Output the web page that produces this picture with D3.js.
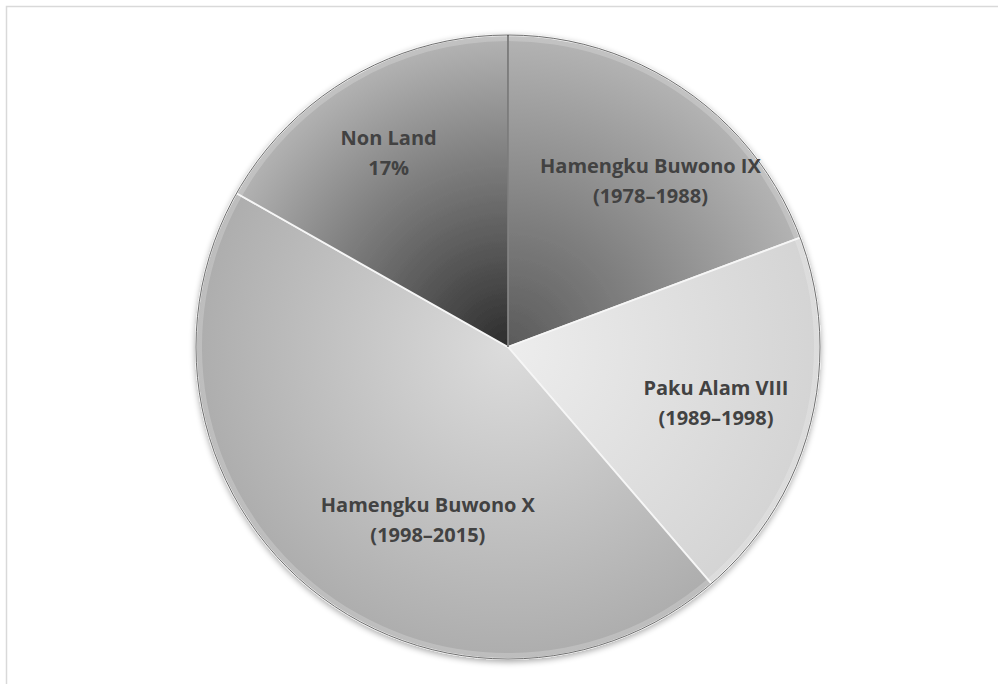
<!DOCTYPE html>
<html>
<head>
<meta charset="utf-8">
<script src="https://cdn.jsdelivr.net/npm/d3@7"></script>
<style>
  html, body { margin: 0; padding: 0; background: #fff; }
  svg { display: block; }
  .slice-label { font-family: "Open Sans", Lato, sans-serif; font-weight: bold; font-size: 20px; fill: #424242; }
</style>
</head>
<body>
<svg id="chart"></svg>
<script>
// slice data, clockwise from 12 o'clock
const names = ['Hamengku Buwono IX', 'Paku Alam VIII', 'Hamengku Buwono X', 'Non Land'];
const subLines = ['(1978\u20131988)', '(1989\u20131998)', '(1998\u20132015)', '17%'];
const shares = [19.3, 19.4, 44.5, 16.8];
// inner/outer gradient shades per slice
const innerShade = ['#5a5a5a', '#ededed', '#dcdcdc', '#2c2c2c'];
const outerShade = ['#b4b4b4', '#d4d4d4', '#adadad', '#b4b4b4'];
// label centres (fraction of radius, angle in degrees from north)
const labelPos = [[0.70, 40.7], [0.69, 105], [0.61, 204.9], [0.73, 328.4]];

const width = 998, height = 684;
const cx = 508, cy = 347, radius = 312;

const svg = d3.select('#chart').attr('width', width).attr('height', height);

svg.append('rect')
    .attr('x', 6.5).attr('y', 6.5)
    .attr('width', 1000).attr('height', 700)
    .attr('fill', 'none')
    .attr('stroke', '#d9d9d9')
    .attr('stroke-width', 1.5);

const defs = svg.append('defs');

const shadow = defs.append('filter').attr('id', 'shadow')
    .attr('x', '-10%').attr('y', '-10%').attr('width', '120%').attr('height', '120%');
shadow.append('feGaussianBlur').attr('in', 'SourceAlpha').attr('stdDeviation', 3);
shadow.append('feOffset').attr('dx', 0).attr('dy', 2).attr('result', 'blur');
shadow.append('feComponentTransfer').append('feFuncA').attr('type', 'linear').attr('slope', 0.35);
const merge = shadow.append('feMerge');
merge.append('feMergeNode');
merge.append('feMergeNode').attr('in', 'SourceGraphic');

names.forEach((n, i) => {
    const g = defs.append('radialGradient')
        .attr('id', 'grad' + i)
        .attr('gradientUnits', 'userSpaceOnUse')
        .attr('cx', 0).attr('cy', 0).attr('r', radius);
    g.append('stop').attr('offset', '0%').attr('stop-color', innerShade[i]);
    g.append('stop').attr('offset', '100%').attr('stop-color', outerShade[i]);
});

const pie = d3.pie().sort(null).value(d => d);
const arcs = pie(shares);
const arc = d3.arc().innerRadius(0).outerRadius(radius);
const rimArc = d3.arc().innerRadius(radius - 6).outerRadius(radius);

const g = svg.append('g').attr('transform', `translate(${cx},${cy})`);

const pieGroup = g.append('g').attr('filter', 'url(#shadow)');

pieGroup.selectAll('path.slice')
    .data(arcs)
    .enter().append('path')
    .attr('class', 'slice')
    .attr('d', arc)
    .attr('fill', (d, i) => `url(#grad${i})`)
    .attr('stroke', '#f6f6f6')
    .attr('stroke-width', 1.8)
    .attr('stroke-linejoin', 'miter');

// soft bevel along the rim
pieGroup.selectAll('path.rim')
    .data(arcs)
    .enter().append('path')
    .attr('class', 'rim')
    .attr('d', rimArc)
    .attr('fill', '#ffffff')
    .attr('opacity', 0.2);

g.append('circle')
    .attr('r', radius)
    .attr('fill', 'none')
    .attr('stroke', '#6e6e6e')
    .attr('stroke-width', 1);

// dark seam at the top between Non Land and Hamengku Buwono IX
g.append('line')
    .attr('x1', 0).attr('y1', 0)
    .attr('x2', 0).attr('y2', -radius)
    .attr('stroke', '#333')
    .attr('stroke-width', 1.2);

const labels = g.selectAll('text.slice-label')
    .data(arcs)
    .enter().append('text')
    .attr('class', 'slice-label')
    .attr('text-anchor', 'middle')
    .attr('transform', (d, i) => {
        const a = labelPos[i][1] * Math.PI / 180;
        const r = labelPos[i][0] * radius;
        return `translate(${r * Math.sin(a)},${-r * Math.cos(a)})`;
    });

labels.append('tspan')
    .attr('x', 0).attr('y', -8)
    .text((d, i) => names[i]);
labels.append('tspan')
    .attr('x', 0).attr('y', 22)
    .text((d, i) => subLines[i]);
</script>
</body>
</html>
